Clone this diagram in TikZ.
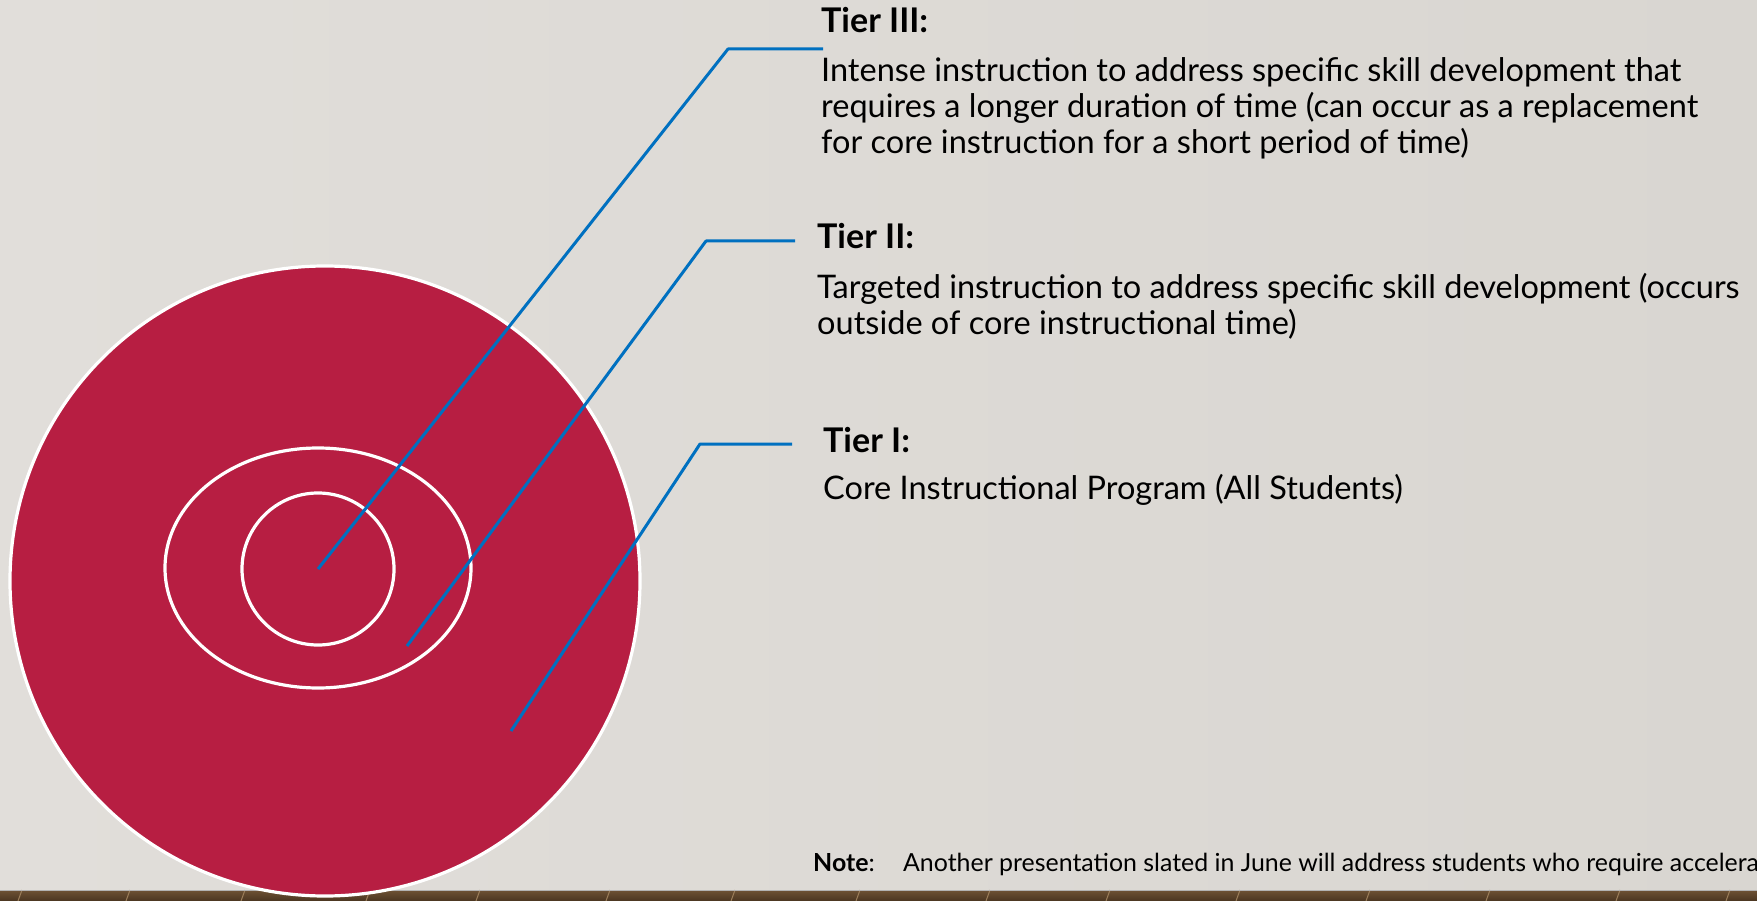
\documentclass[tikz,border=0pt]{standalone}
\usepackage{fontspec}
\setmainfont{Lato}
\usetikzlibrary{positioning, shapes.geometric}
\definecolor{tierRed}{HTML}{B71E42}
\definecolor{leaderBlue}{HTML}{0070C0}
\definecolor{wallLeft}{HTML}{E1DEDA}
\definecolor{wallMid}{HTML}{EAE8E4}
\definecolor{wallRight}{HTML}{D9D6D1}
\definecolor{floorTop}{HTML}{6E5235}
\definecolor{floorBottom}{HTML}{4A3520}
\definecolor{floorJoint}{HTML}{9C7E5A}
\begin{document}
\begin{tikzpicture}[x=1pt, y=-1pt,
ring/.style = {draw=white, line width=3.2pt, fill=tierRed,
               inner sep=0pt, outer sep=0pt},
leader/.style = {draw=leaderBlue, line width=3pt, line join=round},
tierHead/.style = {font=\fontsize{34}{38}\selectfont\bfseries,
                   inner sep=0pt, anchor=base west},
% multi-line body: base is the baseline of its last line
tierBody/.style = {font=\fontsize{32.5}{36}\selectfont,
                   align=left, inner sep=0pt, anchor=base west},
noteText/.style = {font=\fontsize{24.9}{28}\selectfont,
                   inner sep=0pt, anchor=base west},
                    ]
\useasboundingbox (0,0) rectangle (1757,901);
\clip (0,0) rectangle (1757,901);
%--- wall and floor
\shade[left color=wallLeft, middle color=wallMid, right color=wallRight]
        (0,0) rectangle (1757,890);
\shade[top color=floorTop, bottom color=floorBottom] (0,890) rectangle (1757,901);
\foreach \x in {22,130,245,370,480,610,735,860,990,1110,1240,1370,1490,1620,1730}
    \draw[floorJoint, line width=1pt] (\x,890) -- ++(-4,11);
\draw[black!30, line width=1pt] (0,890) -- (1757,890);
%--- rings
\node (outerRing) [ring, circle, minimum size=630pt] at (325,581) {};
\node (midRing)   [ring, ellipse, minimum width=306pt, minimum height=240pt]
                  at (318,568) {};
\node (innerRing) [ring, circle, minimum size=152pt] at (318,569) {};
%--- labels
\node (headThree) [tierHead] at (821,33)  {Tier III:};
\node (bodyThree) [tierBody] at (821,154)
    {Intense instruction to address specific skill development that\\
     requires a longer duration of time (can occur as a replacement\\
     for core instruction for a short period of time)};
\node (headTwo)   [tierHead] at (817,249) {Tier II:};
\node (bodyTwo)   [tierBody] at (817,335)
    {Targeted instruction to address specific skill development (occurs\\
     outside of core instructional time)};
\node (headOne)   [tierHead] at (823,452) {Tier I:};
\node (bodyOne)   [tierBody] at (823,499)
    {Core Instructional Program (All Students)};
\node (note)      [noteText] at (813,871)
    {\textbf{Note}:\hspace{0.8em} Another presentation slated in June will address students who require acceleration.};
%--- leaders
\coordinate (kneeThree) at (728,49);
\coordinate (tipThree)  at (823,49);
\coordinate (fromTwo)   at (407,646);
\coordinate (kneeTwo)   at (706,241);
\coordinate (tipTwo)    at (795,241);
\coordinate (fromOne)   at (511,731);
\coordinate (kneeOne)   at (700,444);
\coordinate (tipOne)    at (792,444);
\draw[leader] (innerRing.center) -- (kneeThree) -- (tipThree);
\draw[leader] (fromTwo) -- (kneeTwo) -- (tipTwo);
\draw[leader] (fromOne) -- (kneeOne) -- (tipOne);
\end{tikzpicture}
\end{document}
